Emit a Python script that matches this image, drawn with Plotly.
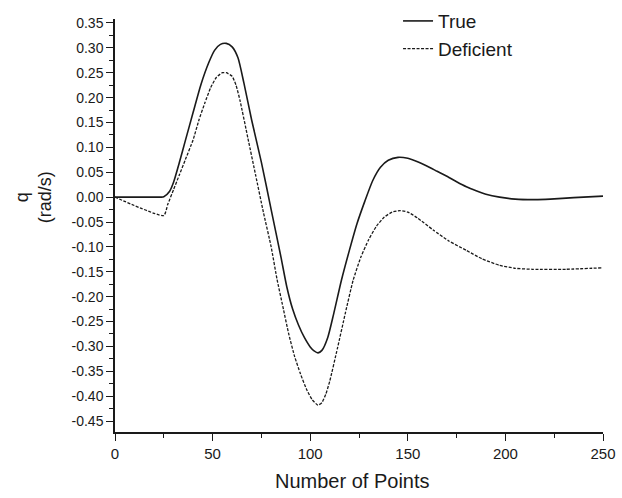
import plotly.graph_objects as go

# Pitch rate q (rad/s) against sample number
true_x = [0, 5, 10, 15, 20, 25, 28, 30, 33, 36, 40, 44, 48, 51, 54, 57, 60, 63, 66,
          70, 75, 80, 85, 88, 91, 94, 97, 100, 102, 104, 106, 109, 112, 116, 120,
          124, 128, 132, 136, 140, 145, 150, 155, 160, 165, 170, 175, 180, 185,
          190, 197, 205, 215, 223, 235, 250]
true_q = [0.0, 0.0, 0.0, 0.0, 0.0, 0.001, 0.012, 0.03, 0.07, 0.113, 0.17, 0.226,
          0.27, 0.295, 0.307, 0.309, 0.302, 0.28, 0.23, 0.155, 0.07, -0.025,
          -0.12, -0.18, -0.225, -0.257, -0.282, -0.301, -0.309, -0.313, -0.308,
          -0.282, -0.235, -0.167, -0.108, -0.053, -0.008, 0.033, 0.06, 0.074,
          0.08, 0.078, 0.071, 0.062, 0.052, 0.042, 0.031, 0.021, 0.013, 0.006,
          0.0, -0.004, -0.005, -0.004, -0.001, 0.002]

def_x = [0, 25, 27, 30, 33, 36, 40, 43, 46, 49, 52, 55, 57, 60, 62, 64, 68, 72,
         76, 80, 83, 86, 89, 92, 95, 98, 101, 104, 106, 108, 110, 114, 118, 122,
         126, 130, 134, 138, 142, 146, 150, 155, 163, 171, 180, 188, 197, 205,
         214, 231, 250]
def_q = [0.0, -0.037, -0.015, 0.015, 0.045, 0.075, 0.115, 0.155, 0.189, 0.22,
         0.241, 0.25, 0.25, 0.243, 0.225, 0.195, 0.12, 0.045, -0.03, -0.1,
         -0.165, -0.22, -0.275, -0.32, -0.355, -0.385, -0.407, -0.418, -0.413,
         -0.396, -0.37, -0.303, -0.233, -0.167, -0.12, -0.085, -0.058, -0.04,
         -0.03, -0.027, -0.03, -0.042, -0.066, -0.088, -0.107, -0.124, -0.137,
         -0.143, -0.145, -0.145, -0.142]

x_ticks = [0, 50, 100, 150, 200, 250]
y_ticks = [0.35, 0.30, 0.25, 0.20, 0.15, 0.10, 0.05, 0.00, -0.05, -0.10, -0.15,
           -0.20, -0.25, -0.30, -0.35, -0.40, -0.45]
y_tick_labels = ["%.2f" % v for v in y_ticks]

FONT = "Liberation Sans, Arial, sans-serif"
INK = "#1a1a1a"

fig = go.Figure()
fig.add_trace(go.Scatter(x=true_x, y=true_q, mode="lines", name="True",
                         line=dict(color=INK, width=1.6, shape="spline",
                                   smoothing=0.6)))
fig.add_trace(go.Scatter(x=def_x, y=def_q, mode="lines", name="Deficient",
                         line=dict(color=INK, width=1.3, dash="3px,1.5px",
                                   shape="spline", smoothing=0.5)))

fig.update_layout(
    width=622, height=498,
    margin=dict(l=115, r=19, t=19, b=66, autoexpand=False),
    paper_bgcolor="white", plot_bgcolor="white",
    font=dict(family=FONT, color=INK),
    showlegend=True,
    legend=dict(x=0.58, y=1.041, xanchor="left", yanchor="top",
                font=dict(size=19, family=FONT, color=INK),
                bgcolor="rgba(0,0,0,0)", tracegroupgap=0),
    xaxis=dict(range=[0, 250], tickvals=x_ticks, showgrid=False, zeroline=False,
               showline=True, linecolor=INK, linewidth=1.5,
               ticks="outside", ticklen=7, tickwidth=1.3, tickcolor=INK,
               tickfont=dict(size=15, family=FONT, color=INK),
               minor=dict(dtick=25, ticks="outside", ticklen=4, tickwidth=1.2,
                          tickcolor=INK, showgrid=False)),
    yaxis=dict(range=[-0.472, 0.358], tickvals=y_ticks, ticktext=y_tick_labels,
               showgrid=False, zeroline=False,
               showline=True, linecolor=INK, linewidth=1.5,
               ticks="outside", ticklen=7, tickwidth=1.3, tickcolor=INK,
               tickfont=dict(size=14, family=FONT, color=INK),
               minor=dict(dtick=0.025, tick0=0, ticks="outside", ticklen=4,
                          tickwidth=1.2, tickcolor=INK, showgrid=False)),
)

# Axis titles
fig.add_annotation(text="Number of Points", xref="paper", yref="paper",
                   x=0.487, y=0, yshift=-49, xanchor="center", yanchor="middle",
                   showarrow=False, font=dict(size=20, family=FONT, color=INK))
fig.add_annotation(text="q<br>(rad/s)", xref="paper", yref="y",
                   x=0, y=0.0, xshift=-82, xanchor="center", yanchor="middle",
                   textangle=-90, showarrow=False,
                   font=dict(size=18, family=FONT, color=INK))

fig.write_html("out.html")
